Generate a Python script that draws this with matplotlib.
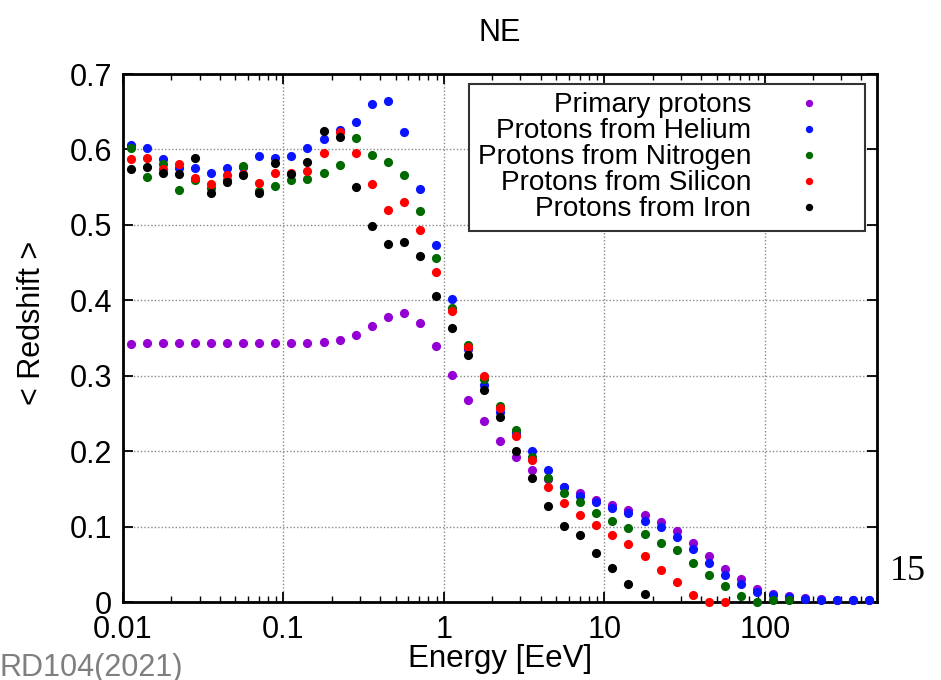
import numpy as np
import matplotlib
matplotlib.use("Agg")
import matplotlib.pyplot as plt
from matplotlib.ticker import FixedLocator, FixedFormatter, LogLocator, NullFormatter, NullLocator

nan = np.nan

energy = [0.0112, 0.0141, 0.0178, 0.0224, 0.0282, 0.0355, 0.0447, 0.0562, 0.0708, 0.0891,
          0.112, 0.141, 0.178, 0.224, 0.282, 0.355, 0.447, 0.562, 0.708, 0.891,
          1.12, 1.41, 1.78, 2.24, 2.82, 3.55, 4.47, 5.62, 7.08, 8.91,
          11.2, 14.1, 17.8, 22.4, 28.2, 35.5, 44.7, 56.2, 70.8, 89.1,
          112, 141, 178, 224, 282, 355, 447]

primary = [0.342, 0.3435, 0.3435, 0.3435, 0.3435, 0.3435, 0.3435, 0.344, 0.3435, 0.3435,
           0.3435, 0.344, 0.345, 0.348, 0.354, 0.366, 0.378, 0.383, 0.370, 0.340,
           0.301, 0.268, 0.2395, 0.213, 0.192, 0.175, 0.163, 0.152, 0.144, 0.1358,
           0.128, 0.122, 0.115, 0.1054, 0.0943, 0.0788, 0.0615, 0.0438, 0.030, 0.0173,
           0.011, 0.0075, 0.005, 0.0035, 0.003, 0.0025, 0.0025]

helium = [0.6056, 0.6025, 0.5870, 0.5750, 0.5759, 0.5692, 0.5759, 0.5773, 0.5910, 0.5888,
          0.5910, 0.6016, 0.6136, 0.6255, 0.6366, 0.6600, 0.6636, 0.6229, 0.5476, 0.4732,
          0.4015, 0.336, 0.288, 0.252, 0.224, 0.1996, 0.1748, 0.1527, 0.1408, 0.133,
          0.1244, 0.1178, 0.108, 0.0996, 0.0864, 0.0704, 0.052, 0.0359, 0.0235, 0.0137,
          0.0097, 0.0066, 0.0038, 0.003, 0.0027, 0.0022, 0.002]

nitrogen = [0.6016, 0.5635, 0.5812, 0.5462, 0.5595, 0.5494, 0.560, 0.5781, 0.545, 0.5515,
            0.5595, 0.5604, 0.5684, 0.5790, 0.6158, 0.5923, 0.5834, 0.5666, 0.5179, 0.4560,
            0.3900, 0.341, 0.296, 0.260, 0.228, 0.192, 0.1645, 0.1443, 0.132, 0.118,
            0.108, 0.0978, 0.0903, 0.0779, 0.069, 0.0518, 0.0355, 0.0212, 0.008, 0.0,
            0.002, 0.002, nan, nan, nan, nan, nan]

silicon = [0.5879, 0.5883, 0.5737, 0.5812, 0.5626, 0.5538, 0.5662, 0.5671, 0.5560, 0.5689,
           0.5692, 0.5715, 0.5958, 0.6237, 0.5958, 0.5547, 0.5201, 0.5308, 0.4931, 0.4374,
           0.3860, 0.338, 0.300, 0.257, 0.2196, 0.1877, 0.152, 0.131, 0.116, 0.1016,
           0.0888, 0.0768, 0.0615, 0.0425, 0.027, 0.0088, 0.0, 0.0, nan, nan,
           nan, nan, nan, nan, nan, nan, nan]

iron = [0.5746, 0.5772, 0.5689, 0.5671, 0.5888, 0.5418, 0.5569, 0.5658, 0.5420, 0.5826,
        0.5680, 0.5834, 0.6246, 0.6162, 0.5502, 0.4989, 0.4741, 0.4772, 0.4591, 0.4059,
        0.3635, 0.328, 0.281, 0.245, 0.1996, 0.164, 0.1275, 0.101, 0.089, 0.0646,
        0.0445, 0.0239, 0.0104, nan, nan, nan, nan, nan, nan, nan,
        nan, nan, nan, nan, nan, nan, nan]

series = [
    ("Primary protons", primary, "#9400d3"),
    ("Protons from Helium", helium, "#0a14ff"),
    ("Protons from Nitrogen", nitrogen, "#006a00"),
    ("Protons from Silicon", silicon, "#ff0000"),
    ("Protons from Iron", iron, "#000000"),
]

x_ticks = [0.01, 0.1, 1, 10, 100]
x_tick_labels = ["0.01", "0.1", "1", "10", "100"]
y_ticks = [0, 0.1, 0.2, 0.3, 0.4, 0.5, 0.6, 0.7]
y_tick_labels = ["0", "0.1", "0.2", "0.3", "0.4", "0.5", "0.6", "0.7"]

plt.rcParams['font.family'] = ['Liberation Sans', 'DejaVu Sans']

fig = plt.figure(figsize=(9.41, 6.80), dpi=100)
ax = fig.add_axes([123/941, 1-602/680, (877-123)/941, (602-74)/680])

for label, vals, col in series:
    ax.plot(energy, vals, linestyle='none', marker='o', markersize=6.6,
            markeredgewidth=0, color=col, label=label, zorder=3, clip_on=False)

ax.set_xscale('log')
ax.set_xlim(0.01, 500)
ax.set_ylim(0, 0.7)

ax.xaxis.set_major_locator(FixedLocator(x_ticks))
ax.xaxis.set_major_formatter(FixedFormatter(x_tick_labels))
ax.xaxis.set_minor_locator(LogLocator(base=10, subs=np.arange(2, 10), numticks=20))
ax.xaxis.set_minor_formatter(NullFormatter())
ax.yaxis.set_major_locator(FixedLocator(y_ticks))
ax.yaxis.set_major_formatter(FixedFormatter(y_tick_labels))
ax.yaxis.set_minor_locator(NullLocator())

ax.tick_params(which='both', direction='in', top=True, right=True, labelsize=22, colors='black')
ax.tick_params(which='major', length=7, width=1.3)
ax.tick_params(axis='x', which='major', pad=9)
ax.tick_params(axis='y', which='major', pad=8)
ax.tick_params(which='minor', length=4, width=1.0)

ax.grid(True, which='major', color='#8a8a8a', linestyle=(0, (1, 1.5)), linewidth=1.0, zorder=0)
for sp in ax.spines.values():
    sp.set_linewidth(2.0)

ax.set_xlabel("Energy [EeV]", fontsize=22.5, labelpad=0)
ax.set_ylabel("< Redshift >", fontsize=22)
ax.yaxis.set_label_coords(-0.1008, 0.528)
ax.set_title("NE", fontsize=22, pad=24)

leg = ax.legend(loc='upper right', bbox_to_anchor=((865-123)/754, (602-84)/528),
                borderaxespad=0, fontsize=20.2, markerfirst=False, frameon=True,
                fancybox=False, framealpha=1, edgecolor='#333333', labelspacing=0.0,
                handlelength=3.4, handletextpad=0.35, borderpad=0.3, markerscale=0.8)
leg.get_frame().set_linewidth(1.5)

fig.text(890/941, 1-572/680, "15", fontsize=26, family='Liberation Serif', ha='left', va='center')
fig.text(0.0, 1-668/680, "RD104(2021)", fontsize=22, color='#7f7f7f', ha='left', va='center')

fig.savefig("out.png", dpi=100)
